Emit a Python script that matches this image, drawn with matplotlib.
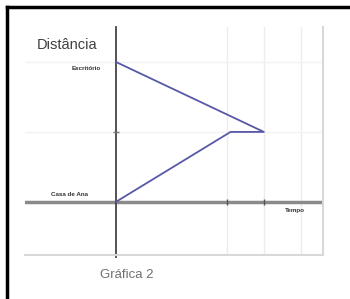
import matplotlib
matplotlib.use("Agg")
import matplotlib.pyplot as plt
from matplotlib.lines import Line2D

# Data (time, distance)
tiempo = [0, 4, 3.1, 0]
distancia = [2, 1, 1, 0]
grid_x = [3, 4, 5]
grid_y = [1, 2]
etiqueta_y = "Distância"
etiqueta_x = "Tempo"
lugar_alto = "Escritório"
lugar_bajo = "Casa de Ana"
titulo = "Gráfica 2"

plt.rcParams['font.family'] = ['Liberation Sans', 'DejaVu Sans']

fig = plt.figure(figsize=(3.5, 2.99), dpi=100)
ax = fig.add_axes([25/350, 1-255/299, 298/350, 228/299])
ax.set_xlim(-2.46, 5.6)
ax.set_ylim(-0.76, 2.5)

for s in ['top', 'left']:
    ax.spines[s].set_visible(False)
for s in ['right', 'bottom']:
    ax.spines[s].set_color('#d8d8d8')
    ax.spines[s].set_linewidth(1.5)
ax.set_xticks([])
ax.set_yticks([])

for gx in grid_x:
    ax.axvline(gx, color='#ececec', lw=1.0, zorder=0)
for gy in grid_y:
    ax.axhline(gy, color='#f2f2f2', lw=1.0, zorder=0)

# axes
ax.axhline(0, color='#8a8a8a', lw=2.5, zorder=1)
ax.plot([0, 0], [-0.79, 2.5], color='#444444', lw=1.3, zorder=2, clip_on=False)
# tick marks
ax.plot([3, 4], [0, 0], ls='none', marker='|', ms=5, color='#555555', zorder=3)
ax.plot([0], [1], ls='none', marker='_', ms=5, color='#777777', zorder=3)

ax.plot(tiempo, distancia, color='#5858a8', lw=1.3, zorder=4)

ax.text(-1.32, 2.24, etiqueta_y, ha='center', va='center', fontsize=10.5, color='#404040')
ax.text(-0.4, 1.91, lugar_alto, ha='right', va='center', fontsize=4.5, fontweight='bold', color='#333333')
ax.text(-0.76, 0.11, lugar_bajo, ha='right', va='center', fontsize=4.5, fontweight='bold', color='#333333')
ax.text(4.84, -0.13, etiqueta_x, ha='center', va='center', fontsize=4.5, fontweight='bold', color='#333333')
ax.text(0.3, -1.04, titulo, ha='center', va='center', fontsize=9.5, color='#707070', clip_on=False)

# outer frame (top and left)
fig.add_artist(Line2D([7/350, 1], [1-7/299, 1-7/299], color='black', lw=2.5, transform=fig.transFigure))
fig.add_artist(Line2D([7/350, 7/350], [0, 1-7/299], color='black', lw=2.5, transform=fig.transFigure))

fig.savefig("out.png", dpi=100)
